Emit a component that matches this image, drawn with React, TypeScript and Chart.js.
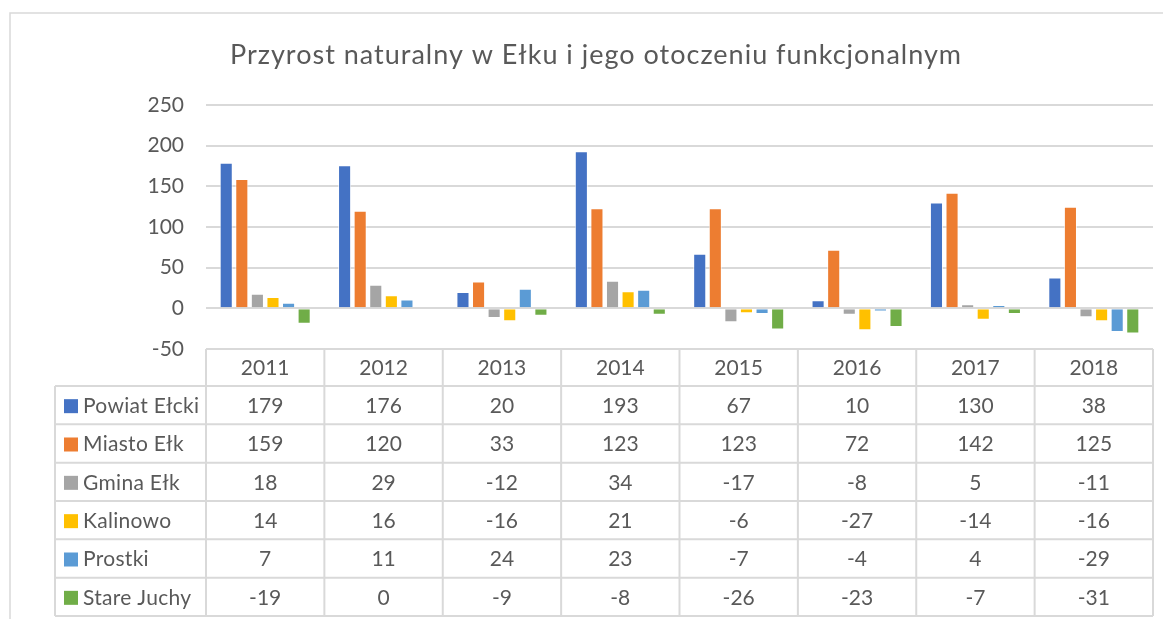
import React, { useEffect, useRef } from "react";
import { Chart, registerables } from "chart.js";

Chart.register(...registerables);

const TITLE = "Przyrost naturalny w Ełku i jego otoczeniu funkcjonalnym";
const YEARS = ["2011", "2012", "2013", "2014", "2015", "2016", "2017", "2018"];
const SERIES_NAMES = ["Powiat Ełcki", "Miasto Ełk", "Gmina Ełk", "Kalinowo", "Prostki", "Stare Juchy"];
const POWIAT_ELCKI = [179, 176, 20, 193, 67, 10, 130, 38];
const MIASTO_ELK = [159, 120, 33, 123, 123, 72, 142, 125];
const GMINA_ELK = [18, 29, -12, 34, -17, -8, 5, -11];
const KALINOWO = [14, 16, -16, 21, -6, -27, -14, -16];
const PROSTKI = [7, 11, 24, 23, -7, -4, 4, -29];
const STARE_JUCHY = [-19, 0, -9, -8, -26, -23, -7, -31];
const COLORS = ["#4472C4", "#ED7D31", "#A5A5A5", "#FFC000", "#5B9BD5", "#70AD47"];
const SERIES = [POWIAT_ELCKI, MIASTO_ELK, GMINA_ELK, KALINOWO, PROSTKI, STARE_JUCHY];

const FONT = "Lato, 'Open Sans', sans-serif";
const TEXT = "#595959";
const LINE = "#d9d9d9";

const tablePlugin = {
  id: "dataTable",
  afterDraw(chart: any) {
    const ctx = chart.ctx;
    const area = chart.chartArea;
    const colW = area.width / YEARS.length;
    const headerTop = area.bottom;
    const headerBottom = 386;
    const tableBottom = 616;
    const rowH = (tableBottom - headerBottom) / SERIES_NAMES.length;
    const leftX = 55;
    ctx.save();
    // outer frame
    ctx.strokeStyle = LINE;
    ctx.lineWidth = 1.5;
    ctx.beginPath();
    ctx.moveTo(10, 640);
    ctx.lineTo(10, 13);
    ctx.lineTo(1180, 13);
    ctx.stroke();

    ctx.lineWidth = 2;
    ctx.strokeStyle = LINE;
    ctx.beginPath();
    ctx.moveTo(area.left, headerTop);
    ctx.lineTo(area.right, headerTop);
    for (let r = 0; r <= SERIES_NAMES.length; r++) {
      const y = headerBottom + r * rowH;
      ctx.moveTo(leftX, y);
      ctx.lineTo(area.right, y);
    }
    ctx.moveTo(leftX, headerBottom);
    ctx.lineTo(leftX, tableBottom);
    for (let c = 0; c <= YEARS.length; c++) {
      const x = area.left + c * colW;
      ctx.moveTo(x, headerTop);
      ctx.lineTo(x, tableBottom);
    }
    ctx.stroke();

    ctx.fillStyle = TEXT;
    ctx.font = `21px ${FONT}`;
    ctx.textAlign = "center";
    ctx.textBaseline = "middle";
    const xs = chart.scales.x;
    YEARS.forEach((yr, i) => {
      ctx.fillText(yr, xs.getPixelForValue(i), (headerTop + headerBottom) / 2 + 1);
    });
    SERIES_NAMES.forEach((name, r) => {
      const cy = headerBottom + (r + 0.5) * rowH + 1;
      ctx.fillStyle = COLORS[r];
      ctx.fillRect(64, cy - 7, 14, 14);
      ctx.fillStyle = TEXT;
      ctx.textAlign = "left";
      (ctx as any).letterSpacing = "0.3px";
      ctx.fillText(name, 83, cy);
      (ctx as any).letterSpacing = "0px";
      ctx.textAlign = "center";
      SERIES[r].forEach((v, i) => {
        ctx.fillText(String(v), xs.getPixelForValue(i), cy);
      });
    });

    // title
    ctx.font = `27px ${FONT}`;
    (ctx as any).letterSpacing = "1px";
    ctx.textAlign = "center";
    ctx.fillText(TITLE, 596, 55);
    (ctx as any).letterSpacing = "0px";
    ctx.restore();
  },
};

export default function App() {
  const ref = useRef<HTMLCanvasElement>(null);
  useEffect(() => {
    const chart = new Chart(ref.current!, {
      type: "bar",
      data: {
        labels: YEARS,
        datasets: SERIES_NAMES.map((name, i) => ({
          label: name,
          data: SERIES[i],
          backgroundColor: COLORS[i],
          borderColor: "rgba(255,255,255,0.7)",
          borderWidth: 1,
          categoryPercentage: 0.79,
          barPercentage: 0.84,
        })),
      },
      options: {
        responsive: false,
        animation: false,
        layout: { padding: { left: 0, top: 105, right: 10, bottom: 270 } },
        plugins: { legend: { display: false }, title: { display: false }, tooltip: { enabled: false } },
        scales: {
          x: { display: false },
          y: {
            min: -50,
            max: 250,
            ticks: { stepSize: 50, color: TEXT, font: { family: FONT, size: 21 }, padding: 22 },
            grid: { color: LINE, lineWidth: 2, drawTicks: false },
            border: { display: false },
            afterFit: (s: any) => {
              s.width = 206;
            },
          },
        },
      },
      plugins: [tablePlugin],
    });
    return () => chart.destroy();
  }, []);
  return (
    <div style={{ position: "absolute", left: 0, top: 0, width: 1163, height: 619, background: "#fff" }}>
      <canvas ref={ref} width={1163} height={619} />
    </div>
  );
}
